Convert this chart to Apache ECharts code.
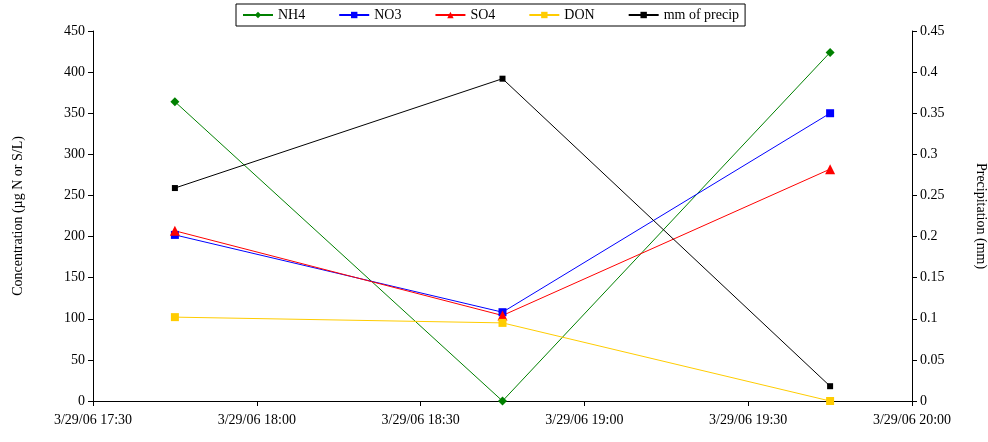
<!DOCTYPE html>
<html><head><meta charset="utf-8">
<script src="https://cdn.jsdelivr.net/npm/echarts@6/dist/echarts.min.js"></script>
<style>body{margin:0;background:#fff}#c{width:988px;height:442px}</style>
</head><body><div id="c"></div>
<script>
// sample times (UTC ms)
const times = [Date.UTC(2006, 2, 29, 17, 45), Date.UTC(2006, 2, 29, 18, 45), Date.UTC(2006, 2, 29, 19, 45)]
const nh4 = [364, 0, 424]
const no3 = [202, 108, 350]
const so4 = [207, 104, 282]
const don = [102, 95, 0]
const precip = [0.259, 0.392, 0.018]

const font = 'Liberation Serif'
const pair = arr => arr.map((v, i) => [times[i], v])
function fmt(v) {
  const d = new Date(v)
  const mm = String(d.getUTCMinutes()).padStart(2, '0')
  return (d.getUTCMonth() + 1) + '/' + d.getUTCDate() + '/06 ' + d.getUTCHours() + ':' + mm
}
function line(name, color, symbol, size, data, y) {
  return {
    name: name, type: 'line', yAxisIndex: y || 0, data: pair(data),
    symbol: symbol, symbolSize: size, animation: false,
    lineStyle: { color: color, width: 1 }, itemStyle: { color: color }
  }
}
const axisStyle = {
  axisLine: { show: true, lineStyle: { color: '#000' } },
  axisTick: { show: true, inside: false, length: 5, lineStyle: { color: '#000' } },
  splitLine: { show: false },
  axisLabel: { color: '#000', fontFamily: font, fontSize: 14 },
  nameTextStyle: { color: '#000', fontFamily: font, fontSize: 14 }
}
const mycharts = echarts.init(document.getElementById('c'))
mycharts.setOption({
  textStyle: { fontFamily: font },
  grid: { left: 93, right: 76, top: 31, bottom: 41, outerBoundsMode: 'none' },
  legend: {
    top: 4, left: 236, itemGap: 33, itemWidth: 30, itemHeight: 8,
    borderColor: '#000', borderWidth: 1, borderRadius: 0, padding: [4, 6],
    textStyle: { color: '#000', fontFamily: font, fontSize: 14 },
    data: ['NH4', 'NO3', 'SO4', 'DON', 'mm of precip']
  },
  xAxis: Object.assign({
    type: 'value', min: Date.UTC(2006, 2, 29, 17, 30), max: Date.UTC(2006, 2, 29, 20, 0),
    interval: 30 * 60 * 1000
  }, axisStyle, { axisLabel: Object.assign({}, axisStyle.axisLabel, { formatter: fmt, margin: 12 }) }),
  yAxis: [
    Object.assign({ type: 'value', min: 0, max: 450, interval: 50, name: 'Concentration (µg N or S/L)', nameLocation: 'middle', nameGap: 68 }, axisStyle),
    Object.assign({ type: 'value', min: 0, max: 0.45, interval: 0.05, position: 'right', name: 'Precipitation (mm)', nameLocation: 'middle', nameGap: 62, nameRotate: -90 }, axisStyle)
  ],
  series: [
    line('NH4', '#008000', 'diamond', 9, nh4),
    line('NO3', '#0000ff', 'rect', 8, no3),
    line('SO4', '#ff0000', 'triangle', 10, so4),
    line('DON', '#ffcc00', 'rect', 8, don),
    line('mm of precip', '#000000', 'rect', 6, precip, 1)
  ]
})
</script></body></html>
